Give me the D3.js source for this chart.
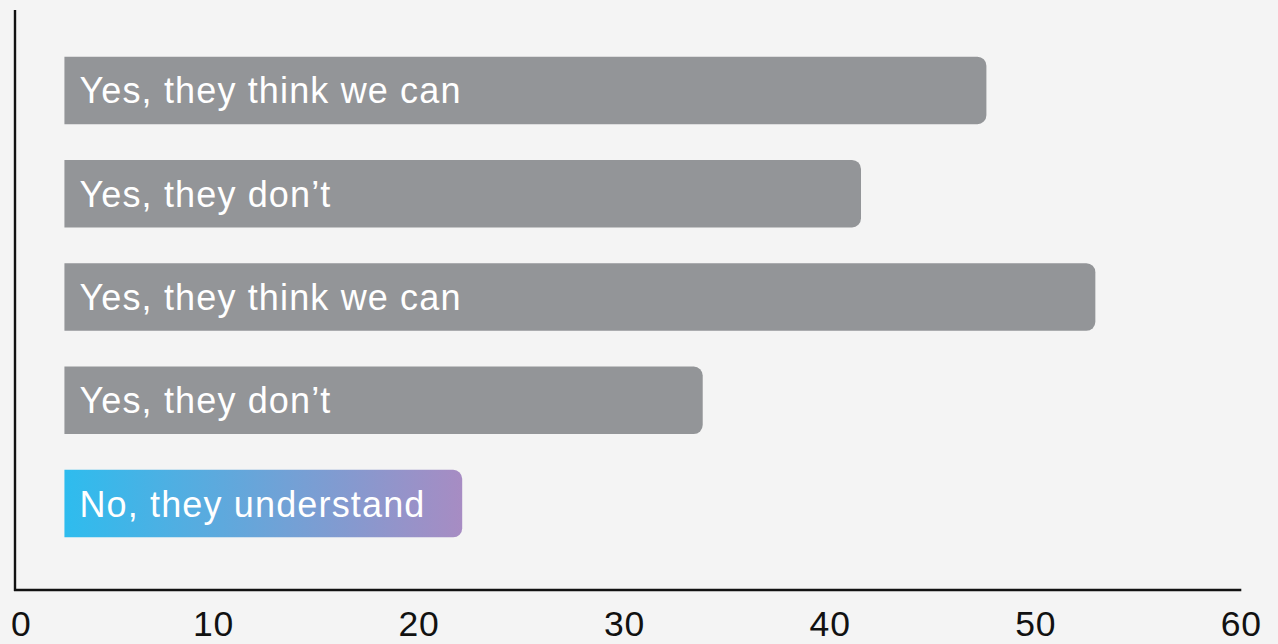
<!DOCTYPE html>
<html>
<head>
<meta charset="utf-8">
<script src="https://cdn.jsdelivr.net/npm/d3@7"></script>
<style>
  html, body { margin: 0; padding: 0; background: #f4f4f4; }
  svg { display: block; }
  .bar-label { font-family: "Liberation Sans", Arial, sans-serif; font-size: 36px; letter-spacing: 1.15px; fill: #ffffff; }
  .tick-label { font-family: "Liberation Sans", Arial, sans-serif; font-size: 35.5px; letter-spacing: 0.8px; fill: #111111; }
</style>
</head>
<body>
<svg id="chart" width="1278" height="644"></svg>
<script>
// Answers, top to bottom
const categories = [
  "Yes, they think we can",
  "Yes, they don\u2019t",
  "Yes, they think we can",
  "Yes, they don\u2019t",
  "No, they understand"
];
// Share of respondents (%)
const values = [47.6, 41.5, 52.9, 33.8, 22.1];
// Which bars use the highlight gradient
const highlighted = [false, false, false, false, true];
// Where every bar begins on the value axis
const barStart = 2.75;
// Axis ticks
const tickValues = [0, 10, 20, 30, 40, 50, 60];

const W = 1278, H = 644;
const axisLeft = 15, axisTop = 10, axisBottom = 590;

const svg = d3.select("#chart");

const x = d3.scaleLinear().domain([0, 60]).range([7.9, 1241.3]);
const y = d3.scaleBand()
  .domain(d3.range(categories.length))
  .range([5, 589])
  .paddingInner(0.346)
  .paddingOuter(0.5);

// Gradient for the highlighted bar
const defs = svg.append("defs");
const grad = defs.append("linearGradient")
  .attr("id", "hl").attr("x1", "0%").attr("x2", "100%").attr("y1", "0%").attr("y2", "0%");
grad.append("stop").attr("offset", "0%").attr("stop-color", "#2ebcee");
grad.append("stop").attr("offset", "100%").attr("stop-color", "#a78cc3");

// Bar shape: square on the left, rounded on the right
function barPath(x0, x1, y0, h, r) {
  r = Math.min(r, (x1 - x0) / 2, h / 2);
  return `M${x0},${y0}H${x1 - r}A${r},${r} 0 0 1 ${x1},${y0 + r}` +
         `V${y0 + h - r}A${r},${r} 0 0 1 ${x1 - r},${y0 + h}H${x0}Z`;
}

const bars = svg.append("g").selectAll("g.bar")
  .data(values.map((v, i) => ({ v, i, label: categories[i], hl: highlighted[i] })))
  .join("g").attr("class", "bar");

bars.append("path")
  .attr("d", d => barPath(x(barStart), x(d.v), y(d.i), y.bandwidth(), 9))
  .attr("fill", d => d.hl ? "url(#hl)" : "#939598");

bars.append("text")
  .attr("class", "bar-label")
  .attr("x", x(barStart) + 15)
  .attr("y", d => y(d.i) + y.bandwidth() / 2 + 13)
  .text(d => d.label);

// Axis lines
svg.append("line")
  .attr("x1", axisLeft).attr("x2", axisLeft)
  .attr("y1", axisTop).attr("y2", axisBottom + 1)
  .attr("stroke", "#111").attr("stroke-width", 2.4);
svg.append("line")
  .attr("x1", axisLeft - 1).attr("x2", x(60))
  .attr("y1", axisBottom).attr("y2", axisBottom)
  .attr("stroke", "#111").attr("stroke-width", 2.4);

// Tick labels, centred on their values; the first is kept inside the frame
const ticks = svg.append("g").selectAll("text")
  .data(tickValues)
  .join("text")
  .attr("class", "tick-label")
  .attr("x", d => x(d))
  .attr("y", 636)
  .attr("text-anchor", "middle")
  .text(d => d);

ticks.each(function () {
  const b = this.getBBox();
  const minLeft = axisLeft - 4;
  if (b.x < minLeft) {
    d3.select(this).attr("x", +d3.select(this).attr("x") + (minLeft - b.x));
  }
});
</script>
</body>
</html>
